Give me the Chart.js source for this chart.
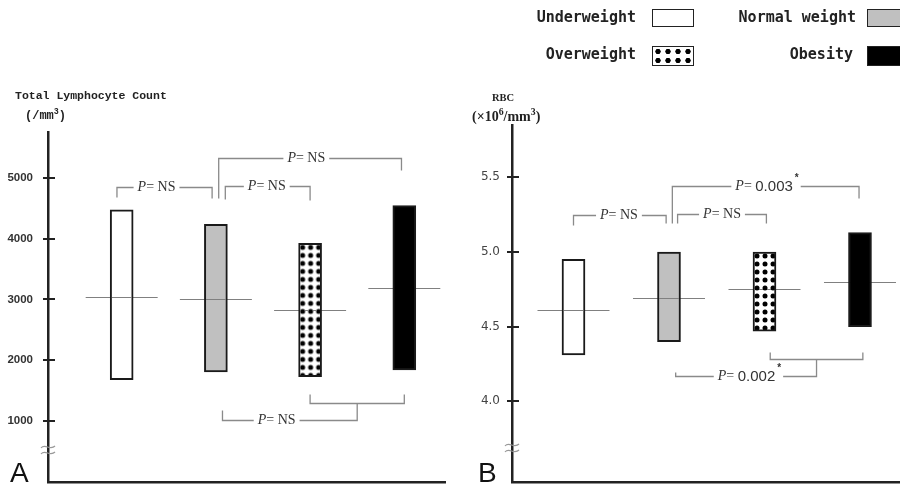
<!DOCTYPE html>
<html>
<head>
<meta charset="utf-8">
<script src="https://cdn.jsdelivr.net/npm/chart.js@4.4.0/dist/chart.umd.min.js"></script>
<style>
  body { margin: 0; background: #fff; }
  #wrap { position: relative; width: 900px; height: 485px; overflow: hidden; background: #fff; }
  canvas { position: absolute; top: 0; }
  #chartA { left: 0; }
  #chartB { left: 450px; }
  .txt { position: absolute; white-space: nowrap; color: #222; z-index: 2; line-height: 18px; }
  .leg { font: bold 15px "DejaVu Sans Mono", monospace; color: #222; text-align: right; }
  .box { position: absolute; z-index: 2; width: 42px; box-sizing: border-box; border: 1.5px solid #222; }
  .panel { font: 28px "Liberation Sans", Arial, sans-serif; line-height: 28px; color: #111; }
  sup { font-size: 0.7em; line-height: 0; }
</style>
</head>
<body>
<div id="wrap">
  <canvas id="chartA" width="450" height="485"></canvas>
  <canvas id="chartB" width="450" height="485"></canvas>

  <!-- 범례 -->
  <div class="txt leg" style="right:264px; top:8px;">Underweight</div>
  <div class="box" style="left:652px; top:9px; height:18px; background:#fff;"></div>
  <div class="txt leg" style="right:44px; top:8px;">Normal weight</div>
  <div class="box" style="left:867px; top:9px; height:18px; background:#c0c0c0;"></div>
  <div class="txt leg" style="right:264px; top:45px;">Overweight</div>
  <div class="box" style="left:652px; top:46px; height:20px; background:#fff radial-gradient(circle, #000 2.4px, transparent 2.9px) 0 0 / 10px 9px;"></div>
  <div class="txt leg" style="right:47px; top:45px;">Obesity</div>
  <div class="box" style="left:867px; top:46px; height:20px; background:#000;"></div>

  <!-- 축 제목 -->
  <div class="txt" style="left:15px; top:89px; font:bold 11.5px 'Liberation Mono', monospace;">Total Lymphocyte Count</div>
  <div class="txt" style="left:25px; top:109px; font:bold 12px 'Liberation Mono', monospace;">(/mm<sup>3</sup>)</div>
  <div class="txt" style="left:492px; top:92px; font:bold 10.5px 'Liberation Serif', serif;">RBC</div>
  <div class="txt" style="left:472px; top:109px; font:bold 14px 'Liberation Serif', serif;">(×10<sup>6</sup>/mm<sup>3</sup>)</div>

  <div class="txt panel" style="left:10px; top:459px;">A</div>
  <div class="txt panel" style="left:478px; top:459px;">B</div>
</div>

<script>
'use strict'
// 그룹 (x축 순서)
const groups = ['Underweight', 'Normal weight', 'Overweight', 'Obesity'];

// A: Total Lymphocyte Count (/mm3)
const lymphLow = [1680, 1810, 1730, 1840];
const lymphHigh = [4470, 4235, 3920, 4540];
const lymphMean = [3035, 3010, 2825, 3190];
const lymphTicks = [1000, 2000, 3000, 4000, 5000];
const lymphP = ['NS', 'NS', 'NS', 'NS'];

// B: RBC (x10^6/mm3)
const rbcLow = [4.31, 4.40, 4.47, 4.50];
const rbcHigh = [4.95, 5.00, 5.00, 5.13];
const rbcMean = [4.61, 4.69, 4.75, 4.80];
const rbcTicks = [4.0, 4.5, 5.0, 5.5];
const rbcP = ['NS', 'NS', '0.003*', '0.002*'];

// 비교 괄호 위치 (x: 그룹 인덱스, y: 값)
const lymphBrackets = [
  { x1: -0.05, x2: 0.96, y: 4840, d1: 10, d2: 11, tx: 0.37 },
  { x1: 1.10, x2: 2.0, y: 4865, d1: 13, d2: 14, tx: 1.54 },
  { x1: 1.03, x2: 2.97, y: 5330, d1: 40, d2: 12, tx: 1.96 },
  { group: true, a1: 2.0, a2: 3.0, ya: 1290, up: 9, b: 1.07, yb: 1020, upb: 10, tx: 1.645 },
];
const rbcBrackets = [
  { x1: 0, x2: 0.97, y: 5.247, d1: 10, d2: 8, tx: 0.476 },
  { x1: 1.09, x2: 2.02, y: 5.254, d1: 9, d2: 9, tx: 1.555 },
  { x1: 1.035, x2: 2.99, y: 5.441, d1: 37, d2: 12, tx: 2.016 },
  { group: true, a1: 2.06, a2: 3.03, ya: 4.281, up: 7, b: 1.07, yb: 4.17, upb: 4, tx: 1.832 },
];

// 점무늬 패턴
function dotPattern() {
  const c = document.createElement('canvas');
  c.width = 8; c.height = 8;
  const g = c.getContext('2d');
  g.fillStyle = '#fff';
  g.fillRect(0, 0, 8, 8);
  g.fillStyle = '#000';
  g.beginPath();
  g.arc(4, 4, 2.5, 0, Math.PI * 2);
  g.fill();
  return g.createPattern(c, 'repeat');
}

// P 값 글자 조각
function labelParts(p) {
  const parts = [
    { t: 'P', font: 'italic 14px "Liberation Serif"' },
    { t: '= ', font: '14px "Liberation Serif"' },
  ];
  const star = p.endsWith('*');
  const body = star ? p.slice(0, -1) : p;
  if (body === 'NS') parts.push({ t: body, font: '14px "Liberation Serif"' });
  else parts.push({ t: body, font: '15px "Liberation Sans"' });
  if (star) parts.push({ t: '*', font: 'bold 10px "Liberation Sans"', sup: true });
  return parts;
}

function measureParts(ctx, parts) {
  let w = 0;
  parts.forEach(p => { ctx.font = p.font; p.w = ctx.measureText(p.t).width; w += p.w; });
  return w;
}

function drawParts(ctx, parts, x, y) {
  ctx.fillStyle = '#333';
  ctx.textBaseline = 'middle';
  ctx.textAlign = 'left';
  parts.forEach(p => {
    ctx.font = p.font;
    ctx.fillText(p.t, x + (p.sup ? 2 : 0), p.sup ? y - 8 : y);
    x += p.w + (p.sup ? 2 : 0);
  });
}

function seg(ctx, pts) {
  ctx.beginPath();
  ctx.moveTo(pts[0][0], pts[0][1]);
  for (let i = 1; i < pts.length; i++) ctx.lineTo(pts[i][0], pts[i][1]);
  ctx.stroke();
}

// 평균선, 눈금, 괄호 그리기
const extras = {
  id: 'extras',
  beforeDatasetsDraw(chart, args, opts) {
    // 패턴을 막대 왼쪽 위에 맞춤
    const el = chart.getDatasetMeta(0).data[2];
    if (el && opts.pattern) {
      const left = el.x - el.width / 2, top = Math.min(el.y, el.base);
      opts.pattern.setTransform(new DOMMatrix([1, 0, 0, 1, left, top]));
    }
  },
  afterDatasetsDraw(chart, args, opts) {
    const ctx = chart.ctx, xs = chart.scales.x, ys = chart.scales.y;
    const ax = chart.chartArea.left;
    ctx.save();

    // 평균선
    ctx.globalCompositeOperation = 'darken';
    ctx.strokeStyle = '#808080';
    ctx.lineWidth = 1.2;
    opts.means.forEach((m, i) => {
      const px = xs.getPixelForValue(i), py = Math.round(ys.getPixelForValue(m)) + 0.5;
      seg(ctx, [[px - 36, py], [px + 36, py]]);
    });
    ctx.globalCompositeOperation = 'source-over';

    // 축을 가로지르는 눈금
    ctx.strokeStyle = '#222';
    ctx.lineWidth = 2;
    ys.ticks.forEach(t => {
      const py = Math.round(ys.getPixelForValue(t.value));
      seg(ctx, [[ax - 5, py], [ax + 7, py]]);
    });

    // 축 생략 표시
    const by = chart.chartArea.bottom - opts.breakGap;
    ctx.strokeStyle = '#999';
    ctx.lineWidth = 1.2;
    [-3, 3].forEach(k => {
      ctx.beginPath();
      ctx.moveTo(ax - 7, by + k + 1);
      ctx.bezierCurveTo(ax - 3, by + k - 4, ax + 2, by + k + 4, ax + 7, by + k - 1);
      ctx.stroke();
    });

    // P 값 괄호
    ctx.strokeStyle = '#8a8a8a';
    ctx.lineWidth = 1.3;
    opts.brackets.forEach((b, i) => {
      const parts = labelParts(opts.pvalues[i]);
      const w = measureParts(ctx, parts);
      const tx = xs.getPixelForValue(b.tx);
      const gl = tx - w / 2 - 4, gr = tx + w / 2 + 4;
      if (!b.group) {
        const x1 = xs.getPixelForValue(b.x1), x2 = xs.getPixelForValue(b.x2);
        const y = Math.round(ys.getPixelForValue(b.y)) + 0.5;
        seg(ctx, [[x1, y + b.d1], [x1, y], [gl, y]]);
        seg(ctx, [[gr, y], [x2, y], [x2, y + b.d2]]);
        drawParts(ctx, parts, tx - w / 2, y);
      } else {
        const a1 = xs.getPixelForValue(b.a1), a2 = xs.getPixelForValue(b.a2);
        const ya = Math.round(ys.getPixelForValue(b.ya)) + 0.5;
        const am = (a1 + a2) / 2;
        const yb = Math.round(ys.getPixelForValue(b.yb)) + 0.5;
        const bx = xs.getPixelForValue(b.b);
        seg(ctx, [[a1, ya - b.up], [a1, ya], [a2, ya], [a2, ya - b.up]]);
        seg(ctx, [[am, ya], [am, yb], [gr, yb]]);
        seg(ctx, [[gl, yb], [bx, yb], [bx, yb - b.upb]]);
        drawParts(ctx, parts, tx - w / 2, yb);
      }
    });
    ctx.restore();
  }
};

function makeChart(id, cfg) {
  const pattern = dotPattern();
  return new Chart(document.getElementById(id), {
    type: 'bar',
    data: {
      datasets: [{
        label: cfg.title,
        data: groups.map((g, i) => ({ x: i, y: [cfg.low[i], cfg.high[i]] })),
        backgroundColor: ['#ffffff', '#c0c0c0', pattern, '#000000'],
        borderColor: '#1a1a1a',
        borderWidth: 2,
        borderSkipped: false,
        barThickness: 23,
      }],
    },
    options: {
      responsive: false,
      animation: false,
      events: [],
      layout: { padding: cfg.padding },
      plugins: {
        legend: { display: false },
        tooltip: { enabled: false },
        extras: {
          means: cfg.mean, brackets: cfg.brackets, pvalues: cfg.pvalues,
          pattern: pattern, breakGap: cfg.breakGap,
        },
      },
      scales: {
        x: {
          type: 'linear',
          min: cfg.xMin, max: cfg.xMax,
          offset: false,
          afterFit: s => { s.height = 0; },
          ticks: { display: false },
          grid: { display: false, drawTicks: false },
          border: { display: true, color: '#222', width: 2.5 },
        },
        y: {
          min: cfg.yMin, max: cfg.yMax,
          // 눈금 글자 여백이 그림 영역을 줄이지 않도록
          afterFit: s => { s.width = cfg.axisLeft; s.paddingTop = 0; s.paddingBottom = 0; },
          afterBuildTicks: s => { s.ticks = cfg.ticks.map(v => ({ value: v })); },
          grid: { display: false, drawTicks: false },
          border: { display: true, color: '#222', width: 2.5 },
          ticks: {
            padding: cfg.tickPad,
            color: cfg.tickColor,
            font: cfg.tickFont,
            callback: cfg.fmt,
          },
        },
      },
    },
    plugins: [extras],
  });
}

// A 패널
makeChart('chartA', {
  title: 'Total Lymphocyte Count',
  low: lymphLow, high: lymphHigh, mean: lymphMean, ticks: lymphTicks,
  brackets: lymphBrackets, pvalues: lymphP,
  yMin: 0, yMax: 5750, xMin: -0.782, xMax: 3.432,
  axisLeft: 48, padding: { left: 0, right: 5, top: 132, bottom: 3 },
  tickPad: 15, tickColor: '#333',
  tickFont: { family: 'Liberation Sans', size: 11.5, weight: 'bold' },
  fmt: v => String(v), breakGap: 32,
});

// B 패널
makeChart('chartB', {
  title: 'RBC',
  low: rbcLow, high: rbcHigh, mean: rbcMean, ticks: rbcTicks,
  brackets: rbcBrackets, pvalues: rbcP,
  yMin: 3.46, yMax: 5.85, xMin: -0.644, xMax: 3.419,
  axisLeft: 62, padding: { left: 0, right: 0, top: 125, bottom: 3 },
  tickPad: 12, tickColor: '#444',
  tickFont: { family: 'DejaVu Sans', size: 12 },
  fmt: v => v.toFixed(1), breakGap: 34,
});
</script>
</body>
</html>
